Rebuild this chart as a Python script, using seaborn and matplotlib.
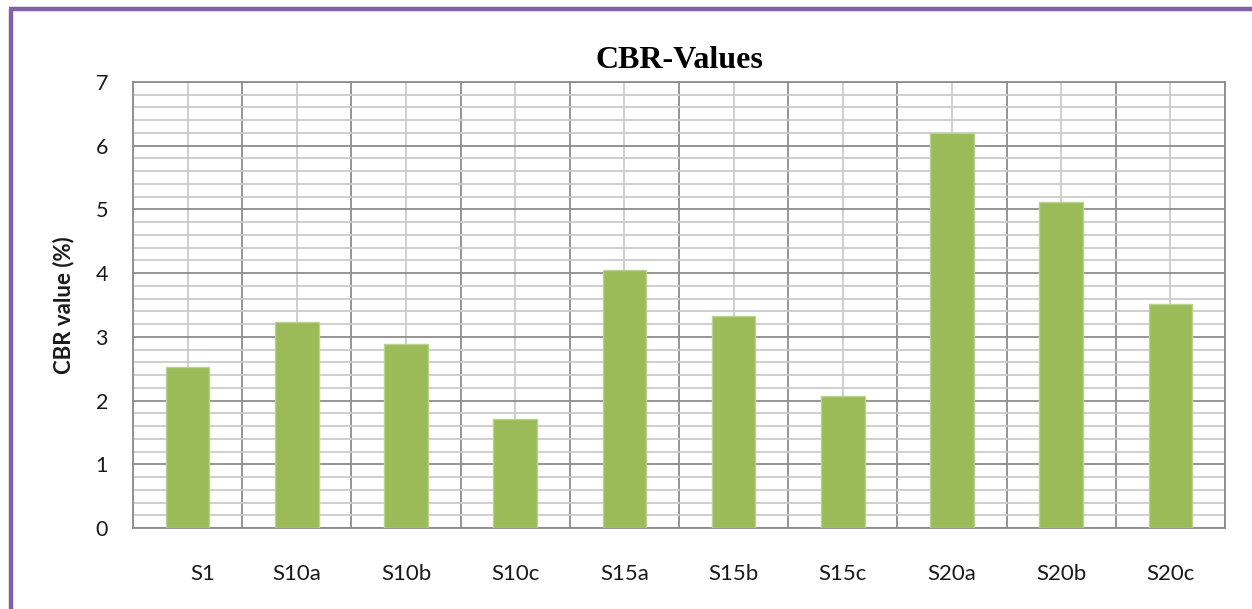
import matplotlib
matplotlib.use("Agg")
import matplotlib.pyplot as plt
import matplotlib.transforms as mtransforms
import seaborn as sns
import pandas as pd
from matplotlib.lines import Line2D
from matplotlib.ticker import MultipleLocator, FixedLocator

samples = ["S1", "S10a", "S10b", "S10c", "S15a", "S15b", "S15c", "S20a", "S20b", "S20c"]
cbr_values = [2.52, 3.24, 2.88, 1.71, 4.05, 3.32, 2.07, 6.20, 5.11, 3.51]

df = pd.DataFrame({"sample": samples, "cbr": cbr_values})

sns.set_theme(style="white")
plt.rcParams["font.family"] = ["Lato", "DejaVu Sans"]

fig = plt.figure(figsize=(12.52, 6.09), dpi=100)
ax = fig.add_axes([0.1062, 0.133, 0.8722, 0.7324])

sns.barplot(data=df, x="sample", y="cbr", color="#9BBB59", width=0.4,
            edgecolor="#B9D38E", linewidth=1.0, saturation=1, ax=ax, zorder=3)

ax.set_xlim(-0.5, len(samples) - 0.5)
ax.set_ylim(0, 7)
ax.yaxis.set_major_locator(MultipleLocator(1))
ax.yaxis.set_minor_locator(MultipleLocator(0.2))
ax.xaxis.set_minor_locator(FixedLocator([i - 0.5 for i in range(len(samples) + 1)]))

ax.yaxis.grid(True, which="major", color="#8C8C8C", linewidth=1.3, zorder=1)
ax.yaxis.grid(True, which="minor", color="#CBCBCB", linewidth=1.3, zorder=0)
ax.xaxis.grid(True, which="minor", color="#8C8C8C", linewidth=1.3, zorder=1)
ax.xaxis.grid(True, which="major", color="#CBCBCB", linewidth=1.3, zorder=0)
ax.set_axisbelow(True)

for s in ax.spines.values():
    s.set_visible(True)
    s.set_color("#8C8C8C")
    s.set_linewidth(1.3)

ax.tick_params(axis="both", which="both", length=0)
ax.tick_params(axis="y", pad=18, labelsize=15.5, labelcolor="#1a1a1a")
ax.tick_params(axis="x", pad=26, labelsize=16, labelcolor="#1a1a1a")

# first category label sits slightly right of its bar in the reference
lbl0 = ax.get_xticklabels()[0]
lbl0.set_transform(lbl0.get_transform() +
                   mtransforms.ScaledTranslation(15 / 100, 0, fig.dpi_scale_trans))

ax.set_xlabel("")
ax.set_ylabel("CBR value (%)", fontsize=16, fontweight="bold", color="#1a1a1a", labelpad=15)
ax.set_title("CBR-Values", fontsize=23, fontweight="bold", family="Liberation Serif",
             color="black", pad=10)

# Purple frame (left and top)
fig.add_artist(Line2D([0.0088, 0.0088], [0.0, 0.9855], transform=fig.transFigure,
                      color="#8064A2", linewidth=3.2, solid_capstyle="butt"))
fig.add_artist(Line2D([0.0075, 1.0], [0.9855, 0.9855], transform=fig.transFigure,
                      color="#8064A2", linewidth=3.2, solid_capstyle="butt"))

fig.savefig("out.png", dpi=100, facecolor="white")
